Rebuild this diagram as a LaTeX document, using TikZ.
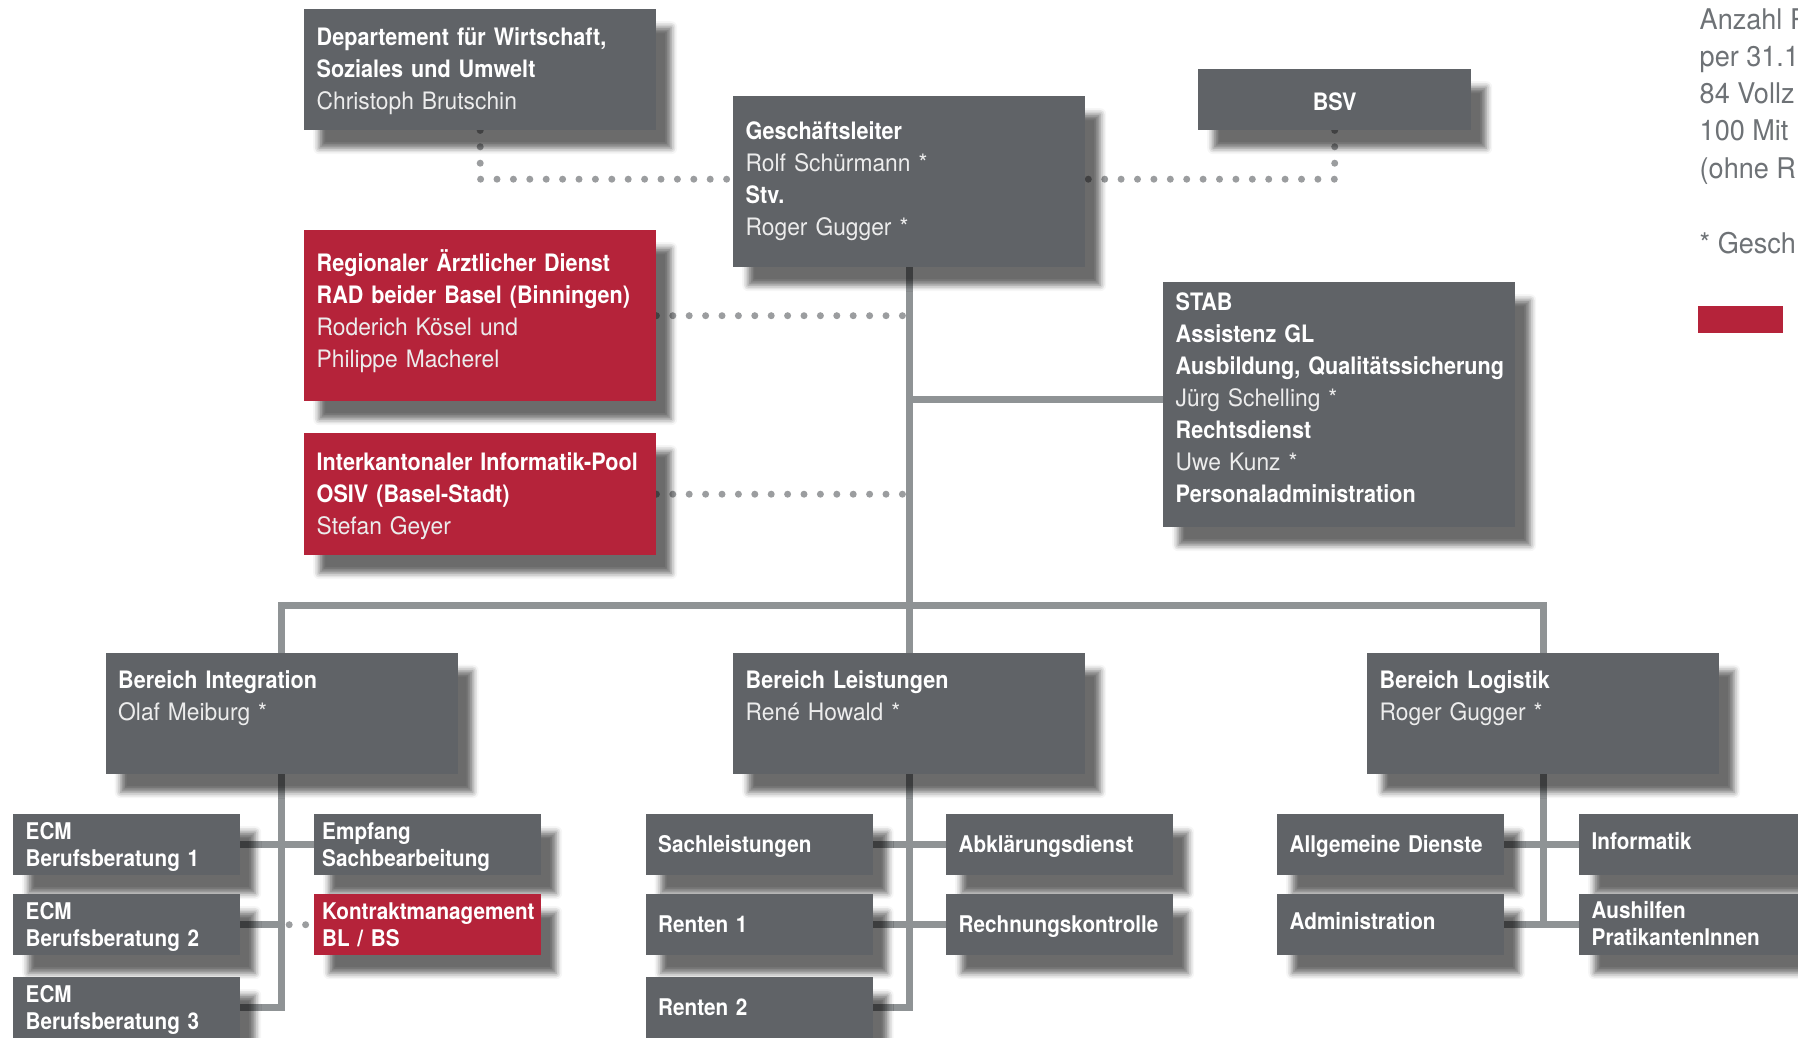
\documentclass[tikz,border=0pt]{standalone}
\usepackage{fontspec}
\newfontfamily\orgfont{TeX Gyre Heros}[FakeStretch=0.9]
\newfontfamily\namefont{TeX Gyre Heros}[FakeStretch=0.95]
\usetikzlibrary{shadows.blur}
\pgfdeclarelayer{background}
\pgfsetlayers{background,main}

\definecolor{boxgrey}{RGB}{96,99,103}
\definecolor{boxred}{RGB}{181,35,58}
\definecolor{linegrey}{RGB}{143,147,149}
\definecolor{dotgrey}{RGB}{155,157,159}
\definecolor{namegrey}{RGB}{236,236,236}
\definecolor{legendgrey}{RGB}{110,114,118}

% names are set in the lighter face
\newcommand{\nm}[1]{{\namefont\mdseries\color{namegrey}#1}}

\tikzset{
  boxshadow/.style={blur shadow={shadow xshift=15pt, shadow yshift=-18pt,
      shadow blur radius=6pt, shadow opacity=58}},
  box/.style={fill=boxgrey, text=white, anchor=north west, align=left,
    inner xsep=12.5pt, inner ysep=0pt,
    font=\orgfont\bfseries\fontsize{24}{32}\selectfont, boxshadow},
  bigbox/.style={box, text width=327pt},
  smallbox/.style={box, text width=202pt,
    font=\orgfont\bfseries\fontsize{23}{27}\selectfont},
  narrowpad/.style={inner xsep=8pt, text width=211pt},
  twoline/.style={text height=25pt, text depth=36pt},
  oneline/.style={text height=38pt, text depth=23pt},
  redfill/.style={fill=boxred},
  conn/.style={draw=linegrey, line width=7pt},
  dots/.style={draw=dotgrey, line width=7pt, line cap=round,
    dash pattern=on 0pt off 16.4pt},
  legendtext/.style={anchor=base west, inner sep=0pt, text=legendgrey,
    font=\namefont\fontsize{28.5}{37}\selectfont}
}

\begin{document}
\begin{tikzpicture}[x=1pt, y=-1pt]
  \useasboundingbox (0,0) rectangle (1798,1038);
  \begin{pgfonlayer}{background}
    \fill[white] (0,0) rectangle (1798,1038);
  \end{pgfonlayer}
  % first shadow off the page
  \path[boxshadow] (-400,-400) rectangle (-300,-300);

  % top level
  \node[bigbox, text height=36pt, text depth=85pt] (dep) at (304,9)
    {Departement für Wirtschaft,\\ Soziales und Umwelt\\ \nm{Christoph Brutschin}};
  \node[bigbox, text height=43pt, text depth=128pt] (gl) at (733,96)
    {Geschäftsleiter\\ \nm{Rolf Schürmann *}\\ Stv.\\ \nm{Roger Gugger *}};
  \node[box, text width=248pt, align=center, text height=41pt, text depth=20pt] (bsv) at (1198,69) {BSV};

  \node[bigbox, redfill, text height=41pt, text depth=130pt] (rad) at (304,230)
    {Regionaler Ärztlicher Dienst\\ RAD beider Basel (Binningen)\\ \nm{Roderich Kösel und}\\ \nm{Philippe Macherel}};
  \node[bigbox, redfill, text height=37pt, text depth=85pt] (osiv) at (304,433)
    {Interkantonaler Informatik-Pool\\ OSIV (Basel-Stadt)\\ \nm{Stefan Geyer}};
  \node[bigbox, text height=28pt, text depth=217pt] (stab) at (1163,282)
    {STAB\\ Assistenz GL\\ \mbox{Ausbildung, Qualitätssicherung}\\ \nm{Jürg Schelling *}\\ Rechtsdienst\\ \nm{Uwe Kunz *}\\ Personaladministration};

  % Bereiche
  \node[bigbox, text height=35.5pt, text depth=86pt] (int) at (105.5,652.5)
    {Bereich Integration\\ \nm{Olaf Meiburg *}};
  \node[bigbox, text height=35.5pt, text depth=86pt] (lei) at (733,652.5)
    {Bereich Leistungen\\ \nm{René Howald *}};
  \node[bigbox, text height=35.5pt, text depth=86pt] (log) at (1367,652.5)
    {Bereich Logistik\\ \nm{Roger Gugger *}};

  % Integration
  \node[smallbox, twoline] (ecm1) at (13,814) {ECM\\ Berufsberatung 1};
  \node[smallbox, twoline] (ecm2) at (13,894) {ECM\\ Berufsberatung 2};
  \node[smallbox, twoline] (ecm3) at (13,977) {ECM\\ Berufsberatung 3};
  \node[smallbox, twoline, narrowpad] (emp) at (314,814) {Empfang\\ Sachbearbeitung};
  \node[smallbox, twoline, narrowpad, redfill] (kon) at (314,894) {Kontraktmanagement\\ BL / BS};

  % Leistungen
  \node[smallbox, oneline] (sach) at (645.5,814) {Sachleistungen};
  \node[smallbox, oneline] (ren1) at (645.5,894) {Renten 1};
  \node[smallbox, oneline] (ren2) at (645.5,977) {Renten 2};
  \node[smallbox, oneline] (abk) at (946,814) {Abklärungsdienst};
  \node[smallbox, oneline] (rech) at (946,894) {Rechnungskontrolle};

  % Logistik
  \node[smallbox, oneline] (allg) at (1277,814) {Allgemeine Dienste};
  \node[smallbox, text height=35pt, text depth=26pt] (adm) at (1277,894) {Administration};
  \node[smallbox, text height=35pt, text depth=26pt] (inf) at (1579,814) {Informatik};
  \node[smallbox, text height=24pt, text depth=37pt] (aus) at (1579,894) {Aushilfen\\ PratikantenInnen};

  % legend
  \node[legendtext] (leg1) at (1699.5,30) {Anzahl P};
  \node[legendtext] (leg2) at (1699.5,67) {per 31.1};
  \node[legendtext] (leg3) at (1699.5,104) {84 Vollz};
  \node[legendtext] (leg4) at (1699.5,141) {100 Mit};
  \node[legendtext] (leg5) at (1699.5,178) {(ohne R};
  \node[legendtext] (legstar) at (1699.5,253) {* Gesch};
  \node[fill=boxred, anchor=north west, inner sep=0pt,
    minimum width=85pt, minimum height=26.5pt] (legred) at (1698,306) {};

  \begin{pgfonlayer}{background}
    \draw[conn] (gl.south) -- (lei.north);
    \draw[conn] (gl.south |- stab.west) ++(0,-5.5) -- ([yshift=5.5pt]stab.west);
    \draw[conn] (int.north) -- ++(0,-47) -| (log.north);

    \draw[conn] (int.south) |- (ecm3.east);
    \draw[conn] (ecm1.east) -- (emp.west);
    \draw[conn] (ecm2.east) -- (ecm2.east -| int.south);

    \draw[conn] (lei.south) |- (ren2.east);
    \draw[conn] (sach.east) -- (abk.west);
    \draw[conn] (ren1.east) -- (rech.west);

    \draw[conn] (log.south) -- (log.south |- adm.east);
    \draw[conn] (allg.east) -- (inf.west);
    \draw[conn] (adm.east) -- (aus.west);

    \draw[dots] (dep.south) |- ([yshift=2.5pt]gl.west);
    \draw[dots] (bsv.south) |- ([yshift=2.5pt]gl.east);
    \draw[dots] (rad.east) -- (rad.east -| gl.south);
    \draw[dots] (osiv.east) -- (osiv.east -| gl.south);
    \draw[dots, dash phase=8pt] (kon.west) -- ++(-33,0);
  \end{pgfonlayer}
\end{tikzpicture}
\end{document}
